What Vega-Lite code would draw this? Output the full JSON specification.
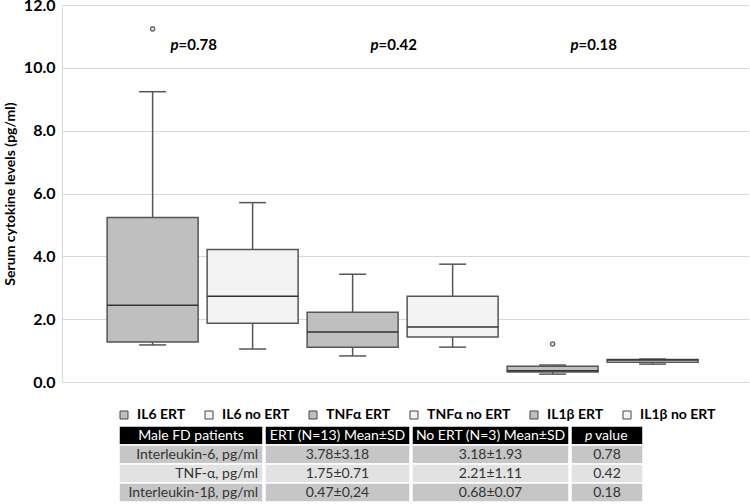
{
  "$schema": "https://vega.github.io/schema/vega-lite/v6.json",
  "padding": {"left": 3, "top": -3, "right": 0, "bottom": 0},
  "background": "white",
  "datasets": {
    "boxes": [
      {"group": "IL6 ERT", "lower": 1.18, "q1": 1.27, "median": 2.44, "q3": 5.24, "upper": 9.24},
      {"group": "IL6 no ERT", "lower": 1.05, "q1": 1.87, "median": 2.73, "q3": 4.22, "upper": 5.71},
      {"group": "TNFα ERT", "lower": 0.83, "q1": 1.11, "median": 1.59, "q3": 2.22, "upper": 3.43},
      {"group": "TNFα no ERT", "lower": 1.11, "q1": 1.43, "median": 1.75, "q3": 2.73, "upper": 3.75},
      {"group": "IL1β ERT", "lower": 0.25, "q1": 0.32, "median": 0.36, "q3": 0.5, "upper": 0.54},
      {"group": "IL1β no ERT", "lower": 0.57, "q1": 0.63, "median": 0.7, "q3": 0.72, "upper": 0.73}
    ],
    "outliers": [
      {"group": "IL6 ERT", "value": 11.24},
      {"group": "IL1β ERT", "value": 1.21}
    ],
    "pvals": [
      {"group": "IL6 ERT", "p": "p", "label": "=0.78"},
      {"group": "TNFα ERT", "p": "p", "label": "=0.42"},
      {"group": "IL1β ERT", "p": "p", "label": "=0.18"}
    ],
    "table": [
      {"row": "h", "c1": "Male FD patients", "c2": "ERT (N=13) Mean±SD", "c3": "No ERT (N=3) Mean±SD", "c4": "value", "c4p": "p"},
      {"row": "r1", "c1": "Interleukin-6, pg/ml", "c2": "3.78±3.18", "c3": "3.18±1.93", "c4": "0.78", "c4p": ""},
      {"row": "r2", "c1": "TNF-α, pg/ml", "c2": "1.75±0.71", "c3": "2.21±1.11", "c4": "0.42", "c4p": ""},
      {"row": "r3", "c1": "Interleukin-1β, pg/ml", "c2": "0.47±0,24", "c3": "0.68±0.07", "c4": "0.18", "c4p": ""}
    ]
  },
  "spacing": 35,
  "vconcat": [
    {
      "width": 687,
      "height": 377,
      "encoding": {
        "x": {
          "field": "group",
          "type": "nominal",
          "sort": ["IL6 ERT", "IL6 no ERT", "TNFα ERT", "TNFα no ERT", "IL1β ERT", "IL1β no ERT"],
          "scale": {
            "domain": ["IL6 ERT", "IL6 no ERT", "TNFα ERT", "TNFα no ERT", "IL1β ERT", "IL1β no ERT"],
            "paddingInner": 0.09,
            "paddingOuter": 0.48,
            "align": 0.47
          },
          "axis": null
        }
      },
      "layer": [
        {
          "data": {"name": "boxes"},
          "mark": {"type": "rule", "color": "#555555", "strokeWidth": 1.5},
          "encoding": {
            "y": {"field": "lower", "type": "quantitative", "scale": {"domain": [0, 12], "nice": false}, "axis": {"values": [0, 2, 4, 6, 8, 10, 12], "format": ".1f", "title": "Serum cytokine levels (pg/ml)"}},
            "y2": {"field": "q1"}
          }
        },
        {
          "data": {"name": "boxes"},
          "mark": {"type": "rule", "color": "#555555", "strokeWidth": 1.5},
          "encoding": {
            "y": {"field": "q3", "type": "quantitative", "axis": {"values": [0, 2, 4, 6, 8, 10, 12], "format": ".1f", "title": "Serum cytokine levels (pg/ml)"}},
            "y2": {"field": "upper"}
          }
        },
        {
          "data": {"name": "boxes"},
          "mark": {"type": "tick", "size": 27, "thickness": 1.5, "color": "#555555", "opacity": 1},
          "encoding": {
            "y": {"field": "upper", "type": "quantitative", "axis": {"values": [0, 2, 4, 6, 8, 10, 12], "format": ".1f", "title": "Serum cytokine levels (pg/ml)"}}
          }
        },
        {
          "data": {"name": "boxes"},
          "mark": {"type": "tick", "size": 27, "thickness": 1.5, "color": "#555555", "opacity": 1},
          "encoding": {
            "y": {"field": "lower", "type": "quantitative", "axis": {"values": [0, 2, 4, 6, 8, 10, 12], "format": ".1f", "title": "Serum cytokine levels (pg/ml)"}}
          }
        },
        {
          "data": {"name": "boxes"},
          "mark": {"type": "bar", "stroke": "#555555", "strokeWidth": 1.5, "opacity": 1},
          "encoding": {
            "y": {"field": "q1", "type": "quantitative", "axis": {"values": [0, 2, 4, 6, 8, 10, 12], "format": ".1f", "title": "Serum cytokine levels (pg/ml)"}},
            "y2": {"field": "q3"},
            "fill": {
              "field": "group",
              "type": "nominal",
              "scale": {
                "domain": ["IL6 ERT", "IL6 no ERT", "TNFα ERT", "TNFα no ERT", "IL1β ERT", "IL1β no ERT"],
                "range": ["#bfbfbf", "#f3f3f3", "#bfbfbf", "#f3f3f3", "#bfbfbf", "#f3f3f3"]
              },
              "legend": {
                "orient": "none",
                "legendX": 55,
                "legendY": 403,
                "direction": "horizontal",
                "columns": 6,
                "title": null
              }
            }
          }
        },
        {
          "data": {"name": "boxes"},
          "mark": {"type": "bar", "stroke": "#333333", "strokeWidth": 1.5, "fill": null, "fillOpacity": 0},
          "encoding": {
            "y": {"field": "median", "type": "quantitative", "axis": {"values": [0, 2, 4, 6, 8, 10, 12], "format": ".1f", "title": "Serum cytokine levels (pg/ml)"}},
            "y2": {"field": "median"}
          }
        },
        {
          "data": {"name": "outliers"},
          "mark": {"type": "point", "shape": "circle", "size": 18, "filled": true, "fill": "#e6e6e6", "stroke": "#666666", "strokeWidth": 1.3, "opacity": 1},
          "encoding": {
            "y": {"field": "value", "type": "quantitative", "axis": {"values": [0, 2, 4, 6, 8, 10, 12], "format": ".1f", "title": "Serum cytokine levels (pg/ml)"}}
          }
        },
        {
          "data": {"name": "pvals"},
          "mark": {"type": "text", "font": "Lato", "fontSize": 15, "fontWeight": "bold", "fontStyle": "italic", "align": "right", "baseline": "middle", "dx": 26, "color": "#000000"},
          "encoding": {
            "y": {"datum": 10.72, "type": "quantitative"},
            "text": {"field": "p"}
          }
        },
        {
          "data": {"name": "pvals"},
          "mark": {"type": "text", "font": "Lato", "fontSize": 15, "fontWeight": "bold", "align": "left", "baseline": "middle", "dx": 26, "color": "#000000"},
          "encoding": {
            "y": {"datum": 10.72, "type": "quantitative"},
            "text": {"field": "label"}
          }
        }
      ]
    },
    {
      "spacing": 0,
      "data": {"name": "table"},
      "hconcat": [
        {
          "width": 56,
          "height": 76,
          "mark": {"type": "rect", "opacity": 0},
          "encoding": {
            "y": {"field": "row", "type": "nominal", "scale": {"domain": ["h", "r1", "r2", "r3"], "paddingInner": 0, "paddingOuter": 0}, "axis": null}
          }
        },
        {
          "width": 144,
          "height": 76,
          "encoding": {
            "y": {"field": "row", "type": "nominal", "scale": {"domain": ["h", "r1", "r2", "r3"], "paddingInner": 0, "paddingOuter": 0}, "axis": null}
          },
          "layer": [
            {
              "mark": {"type": "rect", "stroke": "white", "strokeWidth": 1.5},
              "encoding": {
                "fill": {"condition": [{"test": "datum.row === 'h'", "value": "#000000"}, {"test": "datum.row === 'r2'", "value": "#e2e2e2"}], "value": "#c6c6c6"}
              }
            },
            {
              "transform": [{"filter": "datum.row === 'h'"}],
              "mark": {"type": "text", "font": "Lato", "fontSize": 14, "color": "#ffffff", "baseline": "middle"},
              "encoding": {"text": {"field": "c1"}}
            },
            {
              "transform": [{"filter": "datum.row !== 'h'"}],
              "mark": {"type": "text", "font": "Lato", "fontSize": 14, "color": "#333333", "baseline": "middle", "align": "right", "dx": -5},
              "encoding": {"text": {"field": "c1"}, "x": {"value": "width"}}
            }
          ]
        },
        {
          "width": 145,
          "height": 76,
          "encoding": {
            "y": {"field": "row", "type": "nominal", "scale": {"domain": ["h", "r1", "r2", "r3"], "paddingInner": 0, "paddingOuter": 0}, "axis": null}
          },
          "layer": [
            {
              "mark": {"type": "rect", "stroke": "white", "strokeWidth": 1.5},
              "encoding": {
                "fill": {"condition": [{"test": "datum.row === 'h'", "value": "#000000"}, {"test": "datum.row === 'r2'", "value": "#e2e2e2"}], "value": "#c6c6c6"}
              }
            },
            {
              "mark": {"type": "text", "font": "Lato", "fontSize": 14, "baseline": "middle"},
              "encoding": {
                "text": {"field": "c2"},
                "color": {"condition": {"test": "datum.row === 'h'", "value": "#ffffff"}, "value": "#333333"}
              }
            }
          ]
        },
        {
          "width": 157,
          "height": 76,
          "encoding": {
            "y": {"field": "row", "type": "nominal", "scale": {"domain": ["h", "r1", "r2", "r3"], "paddingInner": 0, "paddingOuter": 0}, "axis": null}
          },
          "layer": [
            {
              "mark": {"type": "rect", "stroke": "white", "strokeWidth": 1.5},
              "encoding": {
                "fill": {"condition": [{"test": "datum.row === 'h'", "value": "#000000"}, {"test": "datum.row === 'r2'", "value": "#e2e2e2"}], "value": "#c6c6c6"}
              }
            },
            {
              "mark": {"type": "text", "font": "Lato", "fontSize": 14, "baseline": "middle"},
              "encoding": {
                "text": {"field": "c3"},
                "color": {"condition": {"test": "datum.row === 'h'", "value": "#ffffff"}, "value": "#333333"}
              }
            }
          ]
        },
        {
          "width": 72,
          "height": 76,
          "encoding": {
            "y": {"field": "row", "type": "nominal", "scale": {"domain": ["h", "r1", "r2", "r3"], "paddingInner": 0, "paddingOuter": 0}, "axis": null}
          },
          "layer": [
            {
              "mark": {"type": "rect", "stroke": "white", "strokeWidth": 1.5},
              "encoding": {
                "fill": {"condition": [{"test": "datum.row === 'h'", "value": "#000000"}, {"test": "datum.row === 'r2'", "value": "#e2e2e2"}], "value": "#c6c6c6"}
              }
            },
            {
              "transform": [{"filter": "datum.row !== 'h'"}],
              "mark": {"type": "text", "font": "Lato", "fontSize": 14, "color": "#333333", "baseline": "middle"},
              "encoding": {"text": {"field": "c4"}}
            },
            {
              "transform": [{"filter": "datum.row === 'h'"}],
              "mark": {"type": "text", "font": "Lato", "fontSize": 14, "color": "#ffffff", "baseline": "middle", "align": "left", "dx": -12},
              "encoding": {"text": {"field": "c4"}}
            },
            {
              "transform": [{"filter": "datum.row === 'h'"}],
              "mark": {"type": "text", "font": "Lato", "fontSize": 14, "fontStyle": "italic", "color": "#ffffff", "baseline": "middle", "align": "left", "dx": -22},
              "encoding": {"text": {"field": "c4p"}}
            }
          ]
        }
      ]
    }
  ],
  "config": {
    "font": "Lato",
    "view": {"stroke": null},
    "concat": {"spacing": 0},
    "axisY": {
      "labelFont": "Lato",
      "labelFontSize": 16,
      "labelFontWeight": "bold",
      "labelColor": "#000000",
      "titleFont": "Lato",
      "titleFontSize": 14,
      "titleFontWeight": "bold",
      "titleColor": "#000000",
      "ticks": false,
      "domainColor": "#d9d9d9",
      "gridColor": "#d9d9d9",
      "labelPadding": 7,
      "titlePadding": 6
    },
    "legend": {
      "symbolType": "square",
      "symbolSize": 64,
      "symbolStrokeColor": "#444444",
      "symbolStrokeWidth": 1,
      "labelFont": "Lato",
      "labelFontSize": 14,
      "labelFontWeight": "bold",
      "labelColor": "#000000",
      "labelOffset": 6,
      "columnPadding": 16
    }
  }
}
